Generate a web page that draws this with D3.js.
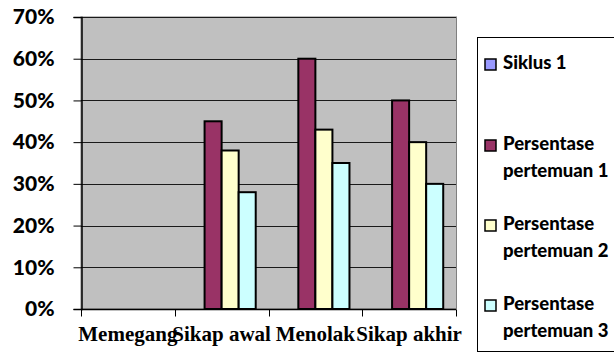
<!DOCTYPE html>
<html>
<head>
<meta charset="utf-8">
<script src="https://cdn.jsdelivr.net/npm/d3@7"></script>
<style>
  html, body { margin: 0; padding: 0; background: #fff; }
  svg { display: block; }
</style>
</head>
<body>
<svg id="chart" width="614" height="353"></svg>
<script>
// Categories along the x axis
const categories = ["Memegang", "Sikap awal", "Menolak", "Sikap akhir"];
// Series names (legend order)
const seriesNames = ["Siklus 1", "Persentase pertemuan 1", "Persentase pertemuan 2", "Persentase pertemuan 3"];
// Values in percent, one array per series (null = no bar)
const siklus1 = [null, null, null, null];
const pertemuan1 = [null, 45, 60, 50];
const pertemuan2 = [null, 38, 43, 40];
const pertemuan3 = [null, 28, 35, 30];
// Y axis tick values
const yTicks = [0, 10, 20, 30, 40, 50, 60, 70];

const seriesValues = [siklus1, pertemuan1, pertemuan2, pertemuan3];
const colors = ["#9999FF", "#993366", "#FFFFCC", "#CCFFFF"];
const sansBold = "Lato, 'Noto Sans', sans-serif";

const svg = d3.select("#chart");
const plot = { left: 81, right: 456, top: 17, bottom: 309 };

const x0 = d3.scaleBand().domain(categories).range([plot.left, plot.right]).paddingInner(0).paddingOuter(0);
const x1 = d3.scaleBand().domain(d3.range(seriesNames.length)).range([0, x0.bandwidth()])
  .paddingInner(0).paddingOuter(0.75);
const y = d3.scaleLinear().domain([0, 70]).range([plot.bottom, plot.top]);

// Plot area background
svg.append("rect")
  .attr("x", plot.left).attr("y", plot.top)
  .attr("width", plot.right - plot.left + 0.5).attr("height", plot.bottom - plot.top)
  .attr("fill", "#C0C0C0").attr("stroke", "#808080").attr("stroke-width", 1);

// Horizontal gridlines
svg.append("g").selectAll("line").data(yTicks.filter(d => d > 0)).join("line")
  .attr("x1", plot.left).attr("x2", plot.right)
  .attr("y1", d => Math.round(y(d)) + 0.5).attr("y2", d => Math.round(y(d)) + 0.5)
  .attr("stroke", "#1a1a1a").attr("stroke-width", 1);

// Bars
const rows = [];
seriesValues.forEach((vals, si) => vals.forEach((v, ci) => {
  if (v != null) rows.push({ si, ci, v });
}));
svg.append("g").selectAll("rect").data(rows).join("rect")
  .attr("x", d => x0(categories[d.ci]) + x1(d.si))
  .attr("width", x1.bandwidth())
  .attr("y", d => y(d.v))
  .attr("height", d => y(0) - y(d.v))
  .attr("fill", d => colors[d.si])
  .attr("stroke", "#000").attr("stroke-width", 2);

// Y axis
const yAxis = d3.axisLeft(y).tickValues(yTicks).tickSize(8).tickPadding(19)
  .tickFormat(d => d + "%");
const gy = svg.append("g").attr("transform", `translate(${plot.left + 0.5},0)`).call(yAxis);
gy.select(".domain").attr("stroke", "#000").attr("stroke-width", 1.5);
gy.selectAll(".tick line").attr("stroke", "#000");
gy.selectAll(".tick text")
  .attr("font-family", sansBold).attr("font-weight", 900)
  .attr("font-size", 21).attr("fill", "#000");

// X axis: ticks on band boundaries, labels at band centers
const gx = svg.append("g").attr("transform", `translate(0,${plot.bottom + 0.5})`);
gx.append("line").attr("x1", plot.left).attr("x2", plot.right).attr("stroke", "#000").attr("stroke-width", 1.5);
const bounds = categories.map(c => x0(c)).concat([plot.right]);
gx.selectAll(".xt").data(bounds).join("line").attr("class", "xt")
  .attr("x1", d => Math.round(d) + 0.5).attr("x2", d => Math.round(d) + 0.5)
  .attr("y1", 0).attr("y2", 7).attr("stroke", "#000");
gx.selectAll("text").data(categories).join("text")
  .attr("x", d => x0(d) + x0.bandwidth() / 2)
  .attr("y", 31.5)
  .attr("text-anchor", "middle")
  .attr("font-family", "'Liberation Serif', 'Times New Roman', serif")
  .attr("font-weight", "bold").attr("font-size", 21).attr("fill", "#000")
  .text(d => d);

// Legend
const legend = svg.append("g");
legend.append("rect").attr("x", 477.5).attr("y", 37.5).attr("width", 200).attr("height", 314)
  .attr("fill", "#fff").attr("stroke", "#000").attr("stroke-width", 1);
const legendItems = [
  { lines: ["Siklus 1"], base: 69 },
  { lines: ["Persentase", "pertemuan 1"], base: 150 },
  { lines: ["Persentase", "pertemuan 2"], base: 230 },
  { lines: ["Persentase", "pertemuan 3"], base: 310 }
];
legendItems.forEach((item, i) => {
  const cy = item.base - 4.5;
  legend.append("rect").attr("x", 485).attr("y", cy - 5.5).attr("width", 11).attr("height", 11)
    .attr("fill", colors[i]).attr("stroke", "#000").attr("stroke-width", 1.5);
  const t = legend.append("text")
    .attr("font-family", sansBold).attr("font-weight", 900)
    .attr("font-size", 18.5).attr("fill", "#000");
  item.lines.forEach((ln, k) => {
    t.append("tspan").attr("x", 503).attr("y", item.base + k * 27).text(ln);
  });
});
</script>
</body>
</html>
